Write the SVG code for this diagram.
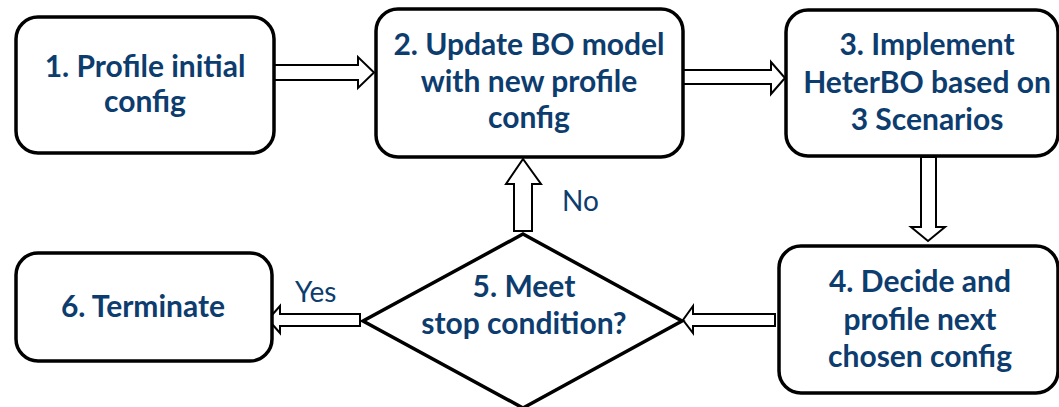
<svg xmlns="http://www.w3.org/2000/svg" width="1059" height="407" viewBox="0 0 1059 407">
  <style>
    .box { fill: #ffffff; stroke: #000000; stroke-width: 3.5; }
    .arrow { fill: #ffffff; stroke: #000000; stroke-width: 2; stroke-linejoin: miter; }
    .label { font-family: "Lato", "Open Sans", "Liberation Sans", sans-serif; font-weight: bold; font-size: 30px; fill: #0D3C6E; text-anchor: middle; }
    .branch { font-family: "Lato", "Open Sans", "Liberation Sans", sans-serif; font-size: 28px; fill: #0D3C6E; }
  </style>

  <!-- block arrows between steps -->
  <g id="connectors">
    <!-- 1 -> 2 -->
    <polygon class="arrow" points="274,65 358,65 358,57 374,72.5 358,88 358,80 274,80"/>
    <!-- 2 -> 3 -->
    <polygon class="arrow" points="683,70 771,70 771,62 785,78 771,94 771,84 683,84"/>
    <!-- 3 -> 4 -->
    <polygon class="arrow" points="921,157 936,157 936,227 945,227 928,241 911,227 921,227"/>
    <!-- 4 -> 5 -->
    <polygon class="arrow" points="775,314 693,314 693,306 683,320 693,333 693,326 775,326"/>
    <!-- 5 -> 6 -->
    <polygon class="arrow" points="360,314 280,314 280,306 268,319.5 280,333 280,326 360,326"/>
    <!-- 5 -> 2 -->
    <polygon class="arrow" points="514,231 514,184 506,184 523,159 541,184 532,184 532,231"/>
    <text class="branch" x="295" y="302">Yes</text>
    <text class="branch" x="562" y="211">No</text>
  </g>

  <g id="step1">
    <rect class="box" x="16" y="17" width="258" height="136" rx="22"/>
    <text class="label" x="145" y="77">1. Profile initial</text>
    <text class="label" x="145" y="112">config</text>
  </g>

  <g id="step2">
    <rect class="box" x="376" y="9" width="307" height="148" rx="22"/>
    <text class="label" x="529" y="55">2. Update BO model</text>
    <text class="label" x="529" y="92">with new profile</text>
    <text class="label" x="529" y="128">config</text>
  </g>

  <g id="step3">
    <rect class="box" x="786" y="10" width="272" height="146" rx="22"/>
    <text class="label" x="927" y="55">3. Implement</text>
    <text class="label" x="927" y="93">HeterBO based on</text>
    <text class="label" x="927" y="130">3 Scenarios</text>
  </g>

  <g id="step4">
    <rect class="box" x="779" y="246" width="279" height="147" rx="22"/>
    <text class="label" x="920" y="292">4. Decide and</text>
    <text class="label" x="920" y="330">profile next</text>
    <text class="label" x="920" y="367">chosen config</text>
  </g>

  <g id="step5">
    <polygon class="box" points="523,234 682,321 523,408 363,321"/>
    <text class="label" x="524" y="297">5. Meet</text>
    <text class="label" x="524" y="334">stop condition?</text>
  </g>

  <g id="step6">
    <rect class="box" x="16" y="253" width="256" height="108" rx="22"/>
    <text class="label" x="143" y="317">6. Terminate</text>
  </g>
</svg>
